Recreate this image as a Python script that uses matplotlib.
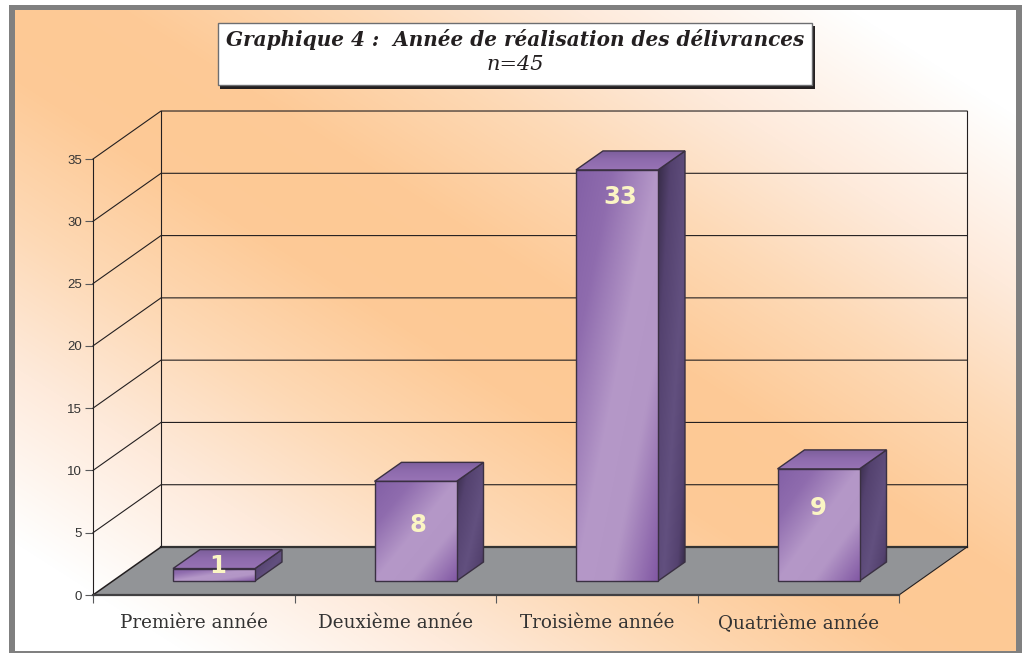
import os
import numpy as np
import matplotlib
matplotlib.use("Agg")
import matplotlib.pyplot as plt
from matplotlib.colors import LinearSegmentedColormap
from matplotlib.font_manager import FontProperties
from matplotlib.patches import Polygon, Rectangle

categories = ["Première année", "Deuxième année", "Troisième année", "Quatrième année"]
values = [1, 8, 33, 9]
y_ticks = [0, 5, 10, 15, 20, 25, 30, 35]
title = "Graphique 4 :  Année de réalisation des délivrances"
subtitle = "n=45"

W, H = 1022, 653
# taille d'une unite en pixels
PX_X = 201.5
PX_Y = 12.46


def serif_font(fname, size, weight, style):
    # les fichiers italiques livres avec matplotlib
    path = os.path.join(matplotlib.get_data_path(), "fonts", "ttf", fname)
    if os.path.exists(path):
        return FontProperties(fname=path, size=size)
    return FontProperties(family="Liberation Serif", size=size * 1.15, weight=weight, style=style)


fig = plt.figure(figsize=(W / 100, H / 100), dpi=100, facecolor="white")

# fond, cadre et encadre du titre, en pixels
bg = fig.add_axes([0, 0, 1, 1])
bg.set_xlim(0, W)
bg.set_ylim(H, 0)
bg.axis("off")

yy, xx = np.mgrid[0:H, 0:W]
t = np.clip(np.abs(yy / H - xx / W) / 0.82, 0, 1)
bg_cmap = LinearSegmentedColormap.from_list(
    "bg", [(0, "#fdc995"), (0.13, "#fdca97"), (0.4, "#fdd9b5"), (0.67, "#feeadb"), (1, "#ffffff")])
im = bg.imshow(t, cmap=bg_cmap, extent=(0, W, H, 0), aspect="auto", vmin=0, vmax=1)
im.set_clip_path(Rectangle((15, 9), 1001, 642, transform=bg.transData))
for rect in [(9, 5, 1013, 4.5), (9, 5, 6, 648), (1016, 5, 6, 648), (9, 651, 1013, 2)]:
    bg.add_patch(Rectangle(rect[:2], rect[2], rect[3], fc="#808080", ec="none"))

bg.add_patch(Rectangle((220, 26), 595, 63, fc="#231f20", ec="none"))
bg.add_patch(Rectangle((218, 23), 594, 62, fc="white", ec="#6d6e71", lw=1))
bg.text(515, 40, title, fontproperties=serif_font("DejaVuSerif-BoldItalic.ttf", 14.4, "bold", "italic"),
        color="#231f20", ha="center", va="center")
bg.text(515, 65, subtitle, fontproperties=serif_font("DejaVuSerif-Italic.ttf", 15, "normal", "italic"),
        color="#231f20", ha="center", va="center")

# plan avant du graphique : x en categories, y en valeurs
ax = fig.add_axes([93 / W, 1 - 595 / H, 806 / W, 436 / H])
ax.patch.set_alpha(0)
ax.set_xlim(0, len(categories))
ax.set_ylim(0, 35)

DX = 68 / PX_X
DY = 48 / PX_Y
n = len(categories)

# sol
ax.add_patch(Polygon([(0, 0), (n, 0), (n + DX, DY), (DX, DY)], fc="#929497", ec="none",
                     zorder=1, clip_on=False))
ax.plot([DX, n + DX], [DY, DY], color="#333333", lw=1.6, zorder=2, clip_on=False)
ax.plot([n, n + DX], [0, DY], color="#231f20", lw=0.8, zorder=2, clip_on=False)
ax.plot([0, DX], [0, DY], color="#231f20", lw=1.1, zorder=2, clip_on=False)

# murs et lignes de grille
for v in y_ticks[1:]:
    ax.plot([0, DX, n + DX], [v, v + DY, v + DY], color="#231f20", lw=0.8, zorder=2, clip_on=False)
ax.plot([DX, DX], [DY, 35 + DY], color="#231f20", lw=0.8, zorder=2, clip_on=False)
ax.plot([n + DX, n + DX], [DY, 35 + DY], color="#231f20", lw=0.8, zorder=2, clip_on=False)

front_cmap = LinearSegmentedColormap.from_list(
    "front", [(0, "#8360a6"), (0.22, "#8f6cae"), (0.5, "#b598c8"), (0.72, "#b396c6"), (1, "#8259a4")])
top_cmap = LinearSegmentedColormap.from_list("top", ["#7d5f9c", "#8f6cae", "#9873b5"])
side_cmap = LinearSegmentedColormap.from_list(
    "side", [(0, "#352a45"), (0.25, "#54426f"), (0.6, "#62507f"), (0.85, "#54426f"), (1, "#352a45")])


def face(points, cmap, grad, zorder):
    pts = np.array(points)
    extent = (pts[:, 0].min(), pts[:, 0].max(), pts[:, 1].min(), pts[:, 1].max())
    img = ax.imshow(grad, cmap=cmap, extent=extent, origin="upper", aspect="auto",
                    vmin=0, vmax=1, zorder=zorder, interpolation="bilinear")
    poly = Polygon(points, fc="none", ec="#3a3042", lw=1, zorder=zorder + 0.1, clip_on=False)
    ax.add_patch(poly)
    img.set_clip_path(poly)
    # sinon l'image reste coupee au bord de l'axe
    img.set_clip_box(fig.bbox)


BAR_W = 82 / PX_X
BAR_DX = 27 / PX_X
BAR_DY = 19 / PX_Y
BASE_X = 80 / PX_X
BASE_Y = 14 / PX_Y

gv, gu = np.mgrid[0:1:80j, 0:1:80j]
# position des etiquettes par rapport a la barre, en pixels
label_drop = [-3, 44, 27, 39]
label_shift = [4, 2, 3, 0]

for i, v in enumerate(values):
    x0 = i + BASE_X
    x1 = x0 + BAR_W
    y0 = BASE_Y
    y1 = BASE_Y + v
    z = 3 + i
    # cote, dessus, face avant
    face([(x1, y0), (x1 + BAR_DX, y0 + BAR_DY), (x1 + BAR_DX, y1 + BAR_DY), (x1, y1)],
         side_cmap, (gu + gv) / 2, z)
    face([(x0, y1), (x1, y1), (x1 + BAR_DX, y1 + BAR_DY), (x0 + BAR_DX, y1 + BAR_DY)],
         top_cmap, gv, z + 0.2)
    face([(x0, y0), (x1, y0), (x1, y1), (x0, y1)],
         front_cmap, (gu + gv) / 2, z + 0.4)
    ax.text(x0 + BAR_W / 2 + label_shift[i] / PX_X, y1 - label_drop[i] / PX_Y, str(v),
            family="DejaVu Sans", weight="bold", fontsize=17.5, color="#fbf5c4",
            ha="center", va="center", zorder=z + 0.6)

ax.set_xlim(0, n)
ax.set_ylim(0, 35)

for side in ["top", "right"]:
    ax.spines[side].set_visible(False)
ax.spines["left"].set_color("#231f20")
ax.spines["left"].set_linewidth(0.8)
ax.spines["bottom"].set_color("#414042")
ax.spines["bottom"].set_linewidth(1.6)
ax.spines["left"].set_zorder(2)
ax.spines["bottom"].set_zorder(2)

ax.set_yticks(y_ticks)
ax.tick_params(axis="y", length=6, width=0.8, color="#58595b", pad=2, labelsize=9.5,
               labelcolor="#333333", labelfontfamily="Liberation Sans")

ax.set_xticks(range(n + 1))
ax.set_xticklabels([])
ax.tick_params(axis="x", which="major", length=6, width=0.8, color="#58595b")
ax.set_xticks(np.arange(n) + 0.5, minor=True)
ax.set_xticklabels(categories, minor=True, family="DejaVu Serif", fontsize=13.2, color="#333333")
ax.tick_params(axis="x", which="minor", length=0, pad=14)

fig.savefig("out.png", dpi=100, facecolor="white")
